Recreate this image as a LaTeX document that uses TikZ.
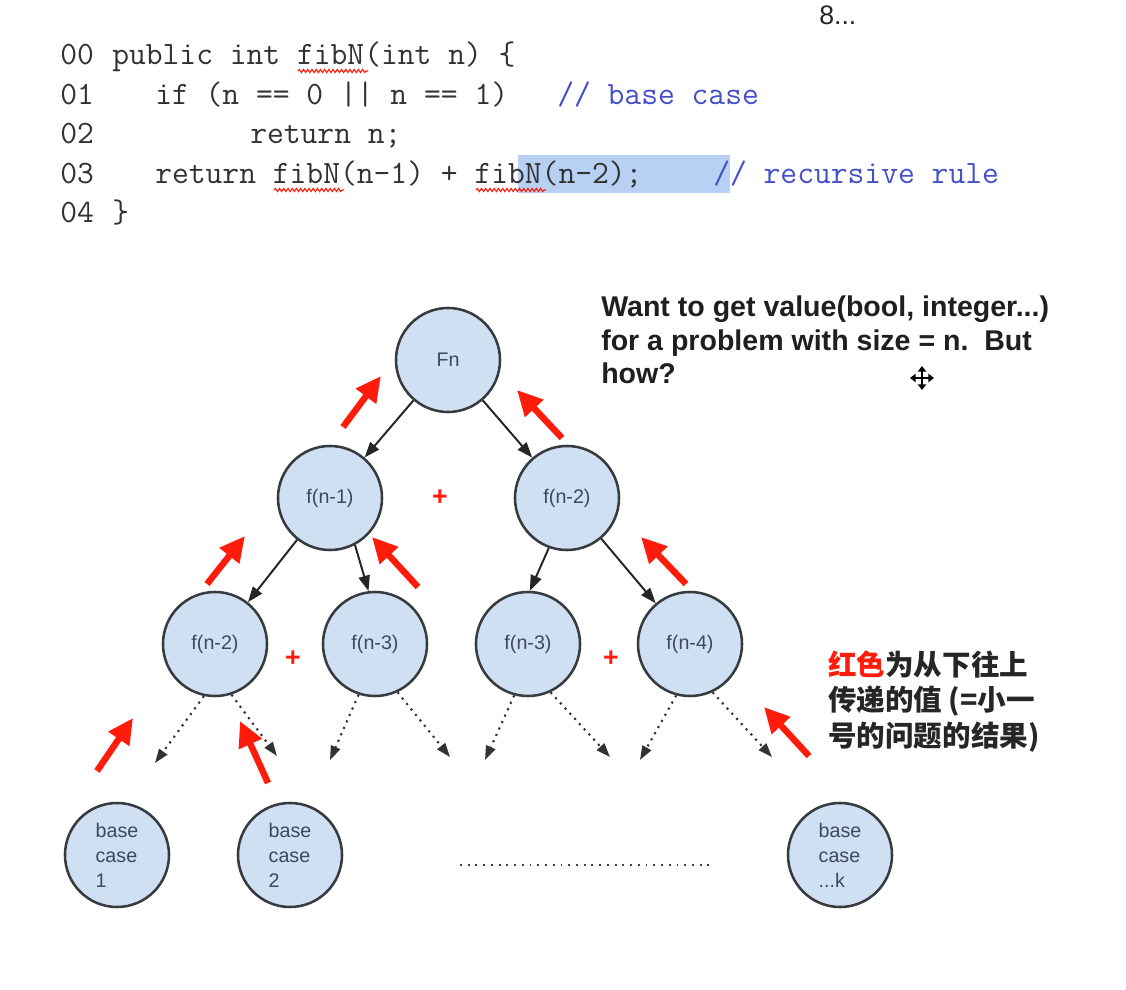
\documentclass[tikz,border=0pt]{standalone}
\usepackage{fontspec}
\setmainfont{Liberation Sans}
\newfontfamily\cjk{Noto Sans CJK SC}
\usetikzlibrary{arrows.meta,decorations.pathmorphing}
\definecolor{nodefill}{RGB}{207,224,243}
\definecolor{nodeborder}{RGB}{55,58,62}
\definecolor{nodetext}{RGB}{60,72,95}
\definecolor{redc}{RGB}{255,28,10}
\definecolor{codec}{RGB}{50,50,50}
\definecolor{commentc}{RGB}{68,80,200}
\definecolor{hlc}{RGB}{185,208,245}
\tikzset{
  fnode/.style={circle, draw=nodeborder, line width=1.8pt, fill=nodefill, minimum size=2.6cm, inner sep=0pt, text=nodetext, font=\fontsize{14}{17.8}\selectfont},
  basenode/.style={fnode, align=left},
  tarrow/.style={-{Triangle[length=11pt,width=8pt]}, line width=1.4pt, black!85},
  darrow/.style={dash pattern=on 1.5pt off 3.5pt, line width=1.5pt, -{Triangle[length=10pt,width=7pt]}, black!80},
  redarrow/.style={-{Triangle[length=18pt,width=17pt]}, line width=4.6pt, redc},
  plussign/.style={text=redc, font=\bfseries\fontsize{19}{19}\selectfont, inner sep=0pt},
  codeline/.style={anchor=base west, inner sep=0pt, font=\ttfamily\fontsize{23.2}{26}\selectfont, text=codec},
  commentline/.style={codeline, text=commentc},
  wavy/.style={redc, line width=0.8pt, decorate, decoration={snake, amplitude=1.1pt, segment length=3pt}},
  desc/.style={anchor=north west, inner sep=0pt, align=left, text=black!88, font=\bfseries\fontsize{20.3}{23.8}\selectfont},
}
\begin{document}
\begin{tikzpicture}[x=0.025cm,y=-0.025cm]
\useasboundingbox (0,0) rectangle (1126,990);
\fill[white] (0,0) rectangle (1126,990);

% highlight
\fill[hlc] (518,155) rectangle (730,193);

% code
\node[codeline] (l0a) at (60,65) {00};
\node[codeline] (l0b) at (112,65) {public int fibN(int n) \{};
\node[codeline] (l1a) at (60,105) {01};
\node[codeline] (l1b) at (155,105) {if (n == 0 || n == 1)};
\node[commentline] (l1c) at (557,105) {// base case};
\node[codeline] (l2a) at (60,144) {02};
\node[codeline] (l2b) at (250,144) {return n;};
\node[codeline] (l3a) at (60,184) {03};
\node[codeline] (l3b) at (155,184) {return fibN(n-1) + fibN(n-2);};
\node[commentline] (l3c) at (713,184) {// recursive rule};
\node[codeline] (l4a) at (60,223) {04};
\node[codeline] (l4b) at (112,223) {\}};

\draw[wavy] (298,71) -- (368,71);
\draw[wavy] (274,190) -- (344,190);
\draw[wavy] (476,190) -- (546,190);

\node[anchor=west, inner sep=0pt, text=black!85, font=\fontsize{19}{22}\selectfont] (eight) at (819,15) {8...};

% description
\node[desc] (d1) at (601,296) {Want to get value(bool, integer...)\\for a problem with size = n.\ \ But\\how?};

% cursor
\coordinate (cur) at (922,378);
\draw[line width=1.6pt, {Triangle[length=4pt,width=6pt]}-{Triangle[length=4pt,width=6pt]}] ([yshift=8.5pt]cur) -- ([yshift=-8.5pt]cur);
\draw[line width=1.6pt, {Triangle[length=4pt,width=6pt]}-{Triangle[length=4pt,width=6pt]}] ([xshift=-8.5pt]cur) -- ([xshift=8.5pt]cur);

% chinese note
\node[anchor=north west, inner sep=0pt, align=left, text=black!85, font=\cjk\bfseries\fontsize{20.3}{24.9}\selectfont] (note) at (828,651) {\textcolor{redc}{红色}为从下往上\\传递的值 (=小一\\号的问题的结果)};

% tree nodes
\node[fnode] (fn) at (448,360) {Fn};
\node[fnode] (a1) at (330,498) {f(n-1)};
\node[fnode] (a2) at (567,498) {f(n-2)};
\node[fnode] (b1) at (215,644) {f(n-2)};
\node[fnode] (b2) at (375,644) {f(n-3)};
\node[fnode] (b3) at (528,644) {f(n-3)};
\node[fnode] (b4) at (690,644) {f(n-4)};
\node[basenode] (c1) at (117,855) {base\\case\\1};
\node[basenode] (c2) at (290,855) {base\\case\\2};
\node[basenode] (ck) at (840,855) {base\\case\\...k};

% solid arrows
\draw[tarrow] (fn) -- (a1);
\draw[tarrow] (fn) -- (a2);
\draw[tarrow] (a1) -- (b1);
\draw[tarrow] (a1.-62) -- (b2.97);
\draw[tarrow] (a2.-110) -- (b3.88);
\draw[tarrow] (a2) -- (b4);

% dotted arrows
\coordinate (e1) at (155,763);
\coordinate (e2) at (277,756);
\coordinate (e3) at (330,760);
\coordinate (e4) at (450,757);
\coordinate (e5) at (485,760);
\coordinate (e6) at (610,757);
\coordinate (e7) at (640,760);
\coordinate (e8) at (772,757);
\draw[darrow] (b1.-102) -- (e1);
\draw[darrow] (b1.-72) -- (e2);
\draw[darrow] (b2.-108) -- (e3);
\draw[darrow] (b2.-65) -- (e4);
\draw[darrow] (b3.-105) -- (e5);
\draw[darrow] (b3.-65) -- (e6);
\draw[darrow] (b4.-105) -- (e7);
\draw[darrow] (b4.-65) -- (e8);

% plus signs
\node[plussign] (p1) at (440,498) {+};
\node[plussign] (p2) at (293,659) {+};
\node[plussign] (p3) at (611,659) {+};

% red arrows
\coordinate (r1a) at (343,427); \coordinate (r1b) at (381,376);
\coordinate (r2a) at (562,438); \coordinate (r2b) at (517,390);
\coordinate (r3a) at (207,584); \coordinate (r3b) at (245,536);
\coordinate (r4a) at (418,587); \coordinate (r4b) at (372,537);
\coordinate (r5a) at (686,584); \coordinate (r5b) at (641,537);
\coordinate (r6a) at (97,771);  \coordinate (r6b) at (133,718);
\coordinate (r7a) at (268,783); \coordinate (r7b) at (240,721);
\coordinate (r8a) at (809,756); \coordinate (r8b) at (764,707);
\foreach \i in {1,...,8} {\draw[redarrow] (r\i a) -- (r\i b);}

% dots between base cases
\coordinate (dl) at (460,865);
\coordinate (dr) at (712,865);
\draw[black!75, line width=1.3pt, dash pattern=on 1.3pt off 4.2pt] (dl) -- (dr);
\end{tikzpicture}
\end{document}
